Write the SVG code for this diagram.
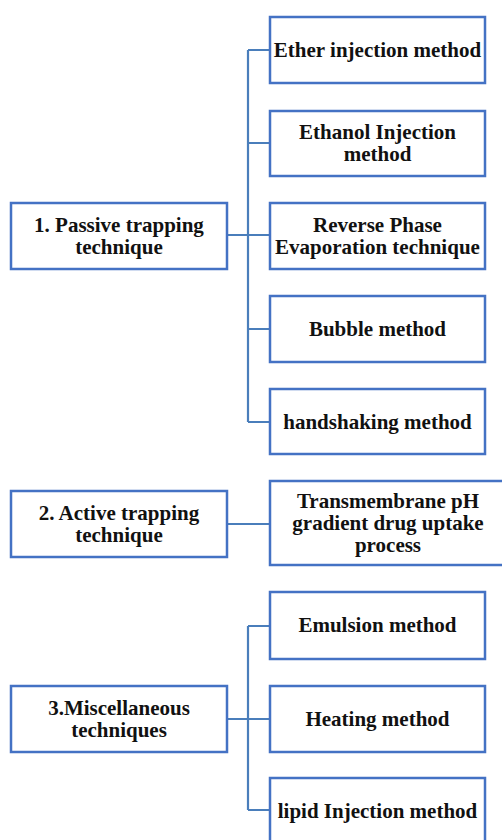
<svg xmlns="http://www.w3.org/2000/svg" width="502" height="840" viewBox="0 0 502 840">
<style>
.box{fill:#fff;stroke:#4472C4;stroke-width:2.5}
.t{font-family:"Liberation Serif","Times New Roman",serif;font-weight:bold;font-size:21px;fill:#111;text-anchor:middle}
.c{fill:none;stroke:#4A7EBB;stroke-width:2.2}
</style>
<rect width="502" height="840" fill="#fff"/>
<g id="connectors">
<path class="c" d="M227,235H248M248,50V422M248,50H270M248,143H270M248,235H270M248,329H270M248,422H270"/>
<path class="c" d="M227,524H270"/>
<path class="c" d="M227,719H248M248,626V810M248,626H270M248,719H270M248,810H270"/>
</g>
<g id="passive"><rect class="box" x="11" y="203" width="216" height="66"/><text class="t" x="119" y="232">1. Passive trapping</text><text class="t" x="119" y="254">technique</text></g>
<g id="ether"><rect class="box" x="270" y="17" width="215" height="66"/><text class="t" x="377.5" y="57">Ether injection method</text></g>
<g id="ethanol"><rect class="box" x="270" y="111" width="215" height="65"/><text class="t" x="377.5" y="139">Ethanol Injection</text><text class="t" x="377.5" y="161">method</text></g>
<g id="reverse"><rect class="box" x="270" y="203" width="215" height="66"/><text class="t" x="377.5" y="232">Reverse Phase</text><text class="t" x="377.5" y="254">Evaporation technique</text></g>
<g id="bubble"><rect class="box" x="270" y="296" width="215" height="66"/><text class="t" x="377.5" y="336">Bubble method</text></g>
<g id="handshaking"><rect class="box" x="270" y="389" width="215" height="65"/><text class="t" x="377.5" y="429">handshaking method</text></g>
<g id="active"><rect class="box" x="11" y="491" width="216" height="66"/><text class="t" x="119" y="520">2. Active trapping</text><text class="t" x="119" y="542">technique</text></g>
<g id="transmembrane"><rect class="box" x="270" y="481" width="234" height="84"/><text class="t" x="388" y="508">Transmembrane pH</text><text class="t" x="388" y="530">gradient drug uptake</text><text class="t" x="388" y="552">process</text></g>
<g id="misc"><rect class="box" x="11" y="686" width="216" height="66"/><text class="t" x="119" y="715">3.Miscellaneous</text><text class="t" x="119" y="737">techniques</text></g>
<g id="emulsion"><rect class="box" x="270" y="592" width="215" height="67"/><text class="t" x="377.5" y="632">Emulsion method</text></g>
<g id="heating"><rect class="box" x="270" y="686" width="215" height="66"/><text class="t" x="377.5" y="726">Heating method</text></g>
<g id="lipid"><rect class="box" x="270" y="778" width="215" height="66"/><text class="t" x="377.5" y="818">lipid Injection method</text></g>
</svg>
